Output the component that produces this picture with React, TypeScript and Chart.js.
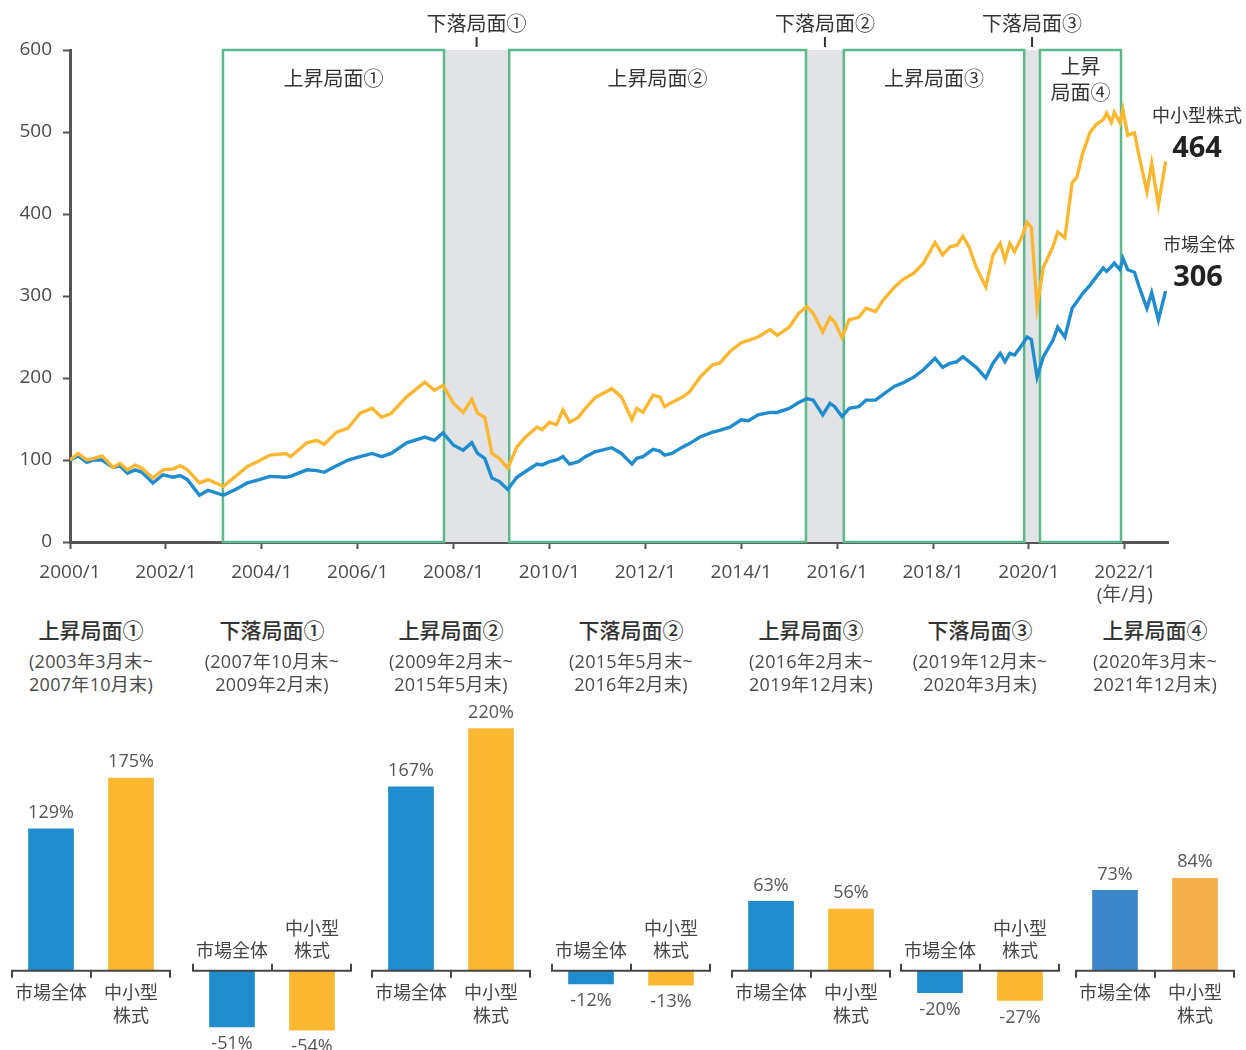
import React, { useEffect, useRef } from "react";
import { Chart, registerables } from "chart.js";

Chart.register(...registerables);

if (typeof document !== "undefined") {
  document.body.style.margin = "0";
}

const FONT = "'Open Sans', 'Noto Sans CJK JP', sans-serif";

// ---- top line chart data (decimal year, index 2000/1 = 100) ----
const dates = [
  2000.0, 2000.17, 2000.35, 2000.5, 2000.67, 2000.9, 2001.04, 2001.2, 2001.36, 2001.5,
  2001.73, 2001.94, 2002.15, 2002.3, 2002.45, 2002.7, 2002.88, 2003.2, 2003.45, 2003.7,
  2003.95, 2004.17, 2004.5, 2004.6, 2004.94, 2005.15, 2005.3, 2005.56, 2005.8, 2006.05,
  2006.3, 2006.5, 2006.7, 2007.02, 2007.4, 2007.6, 2007.78, 2008.0, 2008.2, 2008.38,
  2008.5, 2008.65, 2008.8, 2008.95, 2009.13, 2009.32, 2009.5, 2009.74, 2009.85, 2010.0,
  2010.15, 2010.28, 2010.42, 2010.6, 2010.75, 2010.95, 2011.3, 2011.5, 2011.72, 2011.82,
  2011.95, 2012.16, 2012.3, 2012.4, 2012.55, 2012.78, 2012.92, 2013.14, 2013.4, 2013.55,
  2013.76, 2014.0, 2014.15, 2014.35, 2014.6, 2014.75, 2015.0, 2015.2, 2015.37, 2015.5,
  2015.7, 2015.85, 2015.95, 2016.1, 2016.25, 2016.45, 2016.6, 2016.8, 2016.96, 2017.2,
  2017.37, 2017.6, 2017.8, 2018.04, 2018.2, 2018.35, 2018.5, 2018.62, 2018.75, 2018.9,
  2019.1, 2019.25, 2019.4, 2019.5, 2019.6, 2019.7, 2019.85, 2019.96, 2020.05, 2020.17,
  2020.3, 2020.5, 2020.6, 2020.75, 2020.9, 2021.0, 2021.12, 2021.27, 2021.4, 2021.55,
  2021.62, 2021.72, 2021.78, 2021.9, 2021.96, 2022.06, 2022.2, 2022.3, 2022.46, 2022.56,
  2022.7, 2022.85,
];

const smallMid = [
  100, 108, 100, 102, 105, 91, 96, 88, 94, 90,
  78, 88, 89, 93, 88, 72, 76, 68, 80, 92,
  99, 106, 108, 104, 121, 124, 119, 134, 139, 157,
  163, 152, 157, 177, 195, 185, 191, 169, 158, 174,
  157, 152, 108, 102, 90, 116, 128, 140, 137, 146,
  143, 161, 146, 152, 163, 176, 187, 177, 149, 163,
  158, 179, 177, 165, 170, 177, 183, 201, 216, 218,
  232, 243, 246, 250, 259, 252, 262, 279, 287, 279,
  256, 274, 268, 249, 271, 274, 285, 281, 295, 311,
  320, 328, 340, 365, 350, 360, 362, 373, 360, 335,
  311, 350, 364, 344, 364, 354, 372, 390, 384, 287,
  335, 360, 378, 371, 438, 445, 474, 499, 509, 515,
  523, 512, 524, 511, 527, 496, 499, 470, 427, 462,
  411, 464,
];

const market = [
  100, 105, 97, 100, 100, 91, 93, 84, 88, 85,
  72, 82, 79, 81, 76, 57, 63, 57, 64, 72,
  76, 80, 79, 80, 88, 87, 85, 93, 100, 104,
  108, 104, 108, 121, 128, 124, 133, 118, 112, 121,
  108, 102, 78, 74, 64, 79, 86, 95, 94, 98,
  100, 104, 95, 98, 104, 110, 115, 108, 95, 102,
  104, 113, 111, 106, 108, 116, 120, 128, 134, 136,
  140, 149, 148, 155, 158, 158, 163, 170, 175, 173,
  155, 169, 165, 153, 163, 165, 173, 173, 180, 190,
  194, 201, 210, 224, 213, 218, 220, 226, 220, 213,
  200, 218, 230, 220, 230, 228, 240, 250, 247, 201,
  226, 246, 262, 250, 285, 293, 303, 313, 323, 334,
  330, 336, 340, 332, 346, 332, 329, 311, 285, 304,
  271, 306,
];

const yTicks = [0, 100, 200, 300, 400, 500, 600];
const xTickYears = [2000, 2002, 2004, 2006, 2008, 2010, 2012, 2014, 2016, 2018, 2020, 2022];

const upPhases = [
  [2003.19, 2007.8],
  [2009.16, 2015.35],
  [2016.14, 2019.9],
  [2020.23, 2021.92],
];
const upLabels = [["上昇局面①"], ["上昇局面②"], ["上昇局面③"], ["上昇", "局面④"]];
const downPhases = [
  [2007.8, 2009.16],
  [2015.35, 2016.14],
  [2019.9, 2020.23],
];
const downLabels = ["下落局面①", "下落局面②", "下落局面③"];

// ---- bottom panels ----
const panelTitles = ["上昇局面①", "下落局面①", "上昇局面②", "下落局面②", "上昇局面③", "下落局面③", "上昇局面④"];
const panelPeriods = [
  ["(2003年3月末~", "2007年10月末)"],
  ["(2007年10月末~", "2009年2月末)"],
  ["(2009年2月末~", "2015年5月末)"],
  ["(2015年5月末~", "2016年2月末)"],
  ["(2016年2月末~", "2019年12月末)"],
  ["(2019年12月末~", "2020年3月末)"],
  ["(2020年3月末~", "2021年12月末)"],
];
const marketReturns = [129, -51, 167, -12, 63, -20, 73];
const smallReturns = [175, -54, 220, -13, 56, -27, 84];
const barCategories = [["市場全体"], ["中小型", "株式"]];

const panelCenters = [91, 272, 451, 631, 811, 980, 1155];

const BLUE = "#1F8CCE";
const YELLOW = "#FBB732";
const GREEN = "#5BB98A";
const GRAY = "#E2E3E6";

const topPlugin = {
  id: "phases",
  beforeDatasetsDraw(chart: any) {
    const { ctx, scales } = chart;
    const xs = scales.x;
    const ys = scales.y;
    const top = ys.getPixelForValue(600);
    const bottom = ys.getPixelForValue(0);
    ctx.save();
    ctx.fillStyle = GRAY;
    downPhases.forEach(([a, b]) => {
      const x1 = xs.getPixelForValue(a);
      const x2 = xs.getPixelForValue(b);
      ctx.fillRect(x1, top, x2 - x1, bottom - top);
    });
    ctx.strokeStyle = GREEN;
    ctx.lineWidth = 2.5;
    upPhases.forEach(([a, b]) => {
      const x1 = xs.getPixelForValue(a);
      const x2 = xs.getPixelForValue(b);
      ctx.strokeRect(x1, top, x2 - x1, bottom - top);
    });
    ctx.restore();
  },
  afterDatasetsDraw(chart: any) {
    const { ctx, scales } = chart;
    const xs = scales.x;
    const ys = scales.y;
    const top = ys.getPixelForValue(600);
    ctx.save();
    ctx.fillStyle = "#333";
    ctx.textAlign = "center";
    ctx.textBaseline = "middle";
    ctx.font = `20px ${FONT}`;
    upPhases.forEach(([a, b], i) => {
      const cx = (xs.getPixelForValue(a) + xs.getPixelForValue(b)) / 2;
      const lines = upLabels[i];
      if (lines.length === 1) {
        ctx.fillText(lines[0], cx, top + 30);
      } else {
        lines.forEach((ln, k) => ctx.fillText(ln, cx, top + 18 + k * 26));
      }
    });
    ctx.strokeStyle = "#333";
    ctx.lineWidth = 2;
    downPhases.forEach(([a, b], i) => {
      const cx = (xs.getPixelForValue(a) + xs.getPixelForValue(b)) / 2;
      ctx.fillText(downLabels[i], cx, top - 25);
      ctx.beginPath();
      ctx.moveTo(cx, top - 13);
      ctx.lineTo(cx, top - 3);
      ctx.stroke();
    });
    // end labels
    ctx.fillStyle = "#333";
    ctx.font = `18px ${FONT}`;
    ctx.fillText("中小型株式", 1197, 117);
    ctx.fillText("市場全体", 1199, 246);
    ctx.fillStyle = "#222";
    ctx.font = `bold 29px ${FONT}`;
    ctx.fillText(String(smallMid[smallMid.length - 1]), 1197, 149);
    ctx.fillText(String(market[market.length - 1]), 1198, 278);
    ctx.restore();
  },
};

function TopChart() {
  const ref = useRef<HTMLCanvasElement | null>(null);
  useEffect(() => {
    const chart = new Chart(ref.current as HTMLCanvasElement, {
      type: "line",
      data: {
        datasets: [
          {
            label: "中小型株式",
            data: dates.map((d, i) => ({ x: d, y: smallMid[i] })),
            borderColor: YELLOW,
            borderWidth: 3.4,
            pointRadius: 0,
            tension: 0,
          },
          {
            label: "市場全体",
            data: dates.map((d, i) => ({ x: d, y: market[i] })),
            borderColor: BLUE,
            borderWidth: 3.4,
            pointRadius: 0,
            tension: 0,
          },
        ],
      },
      options: {
        responsive: false,
        animation: false,
        layout: { padding: { left: 0, right: 78, top: 50, bottom: 0 } },
        plugins: { legend: { display: false }, tooltip: { enabled: false } },
        scales: {
          x: {
            type: "linear",
            min: 2000,
            max: 2022.9,
            afterBuildTicks: (s: any) => {
              s.ticks = xTickYears.map((v) => ({ value: v }));
            },
            afterFit: (s: any) => {
              s.height = 68;
            },
            grid: { display: true, drawOnChartArea: false, drawTicks: true, tickLength: 7, tickColor: "#555", tickWidth: 2 },
            border: { display: true, color: "#555", width: 3 },
            ticks: {
              padding: 12,
              color: "#4a4a4a",
              autoSkip: false,
              maxRotation: 0,
              font: { size: 19, family: FONT, lineHeight: 1.2 },
              callback: (v: any) => (v === 2022 ? ["2022/1", "(年/月)"] : `${v}/1`),
            },
          },
          y: {
            min: 0,
            max: 600,
            afterBuildTicks: (s: any) => {
              s.ticks = yTicks.map((v) => ({ value: v }));
            },
            afterFit: (s: any) => {
              s.width = 70;
            },
            grid: { display: true, drawOnChartArea: false, drawTicks: true, tickLength: 7, tickColor: "#555", tickWidth: 2 },
            border: { display: true, color: "#555", width: 3 },
            ticks: { padding: 11, color: "#4a4a4a", font: { size: 19, family: FONT } },
          },
        },
      },
      plugins: [topPlugin],
    } as any);
    return () => chart.destroy();
  }, []);
  return <canvas ref={ref} width={1246} height={610} style={{ position: "absolute", left: 0, top: 0 }} />;
}

const bracketPlugin = {
  id: "bracket",
  afterDatasetsDraw(chart: any) {
    const { ctx, chartArea, scales } = chart;
    const ys = scales.y;
    const y0 = ys.getPixelForValue(0);
    const vals: number[] = chart.data.datasets[0].data;
    const neg = vals.every((v) => v < 0);
    const d = neg ? -1 : 1;
    const L = chartArea.left + 1;
    const R = chartArea.right - 1;
    const M = (L + R) / 2;
    ctx.save();
    ctx.strokeStyle = "#444";
    ctx.lineWidth = 2;
    ctx.beginPath();
    ctx.moveTo(L, y0 + d * 7);
    ctx.lineTo(L, y0);
    ctx.lineTo(R, y0);
    ctx.lineTo(R, y0 + d * 7);
    ctx.moveTo(M, y0);
    ctx.lineTo(M, y0 + d * 7);
    ctx.stroke();
    const meta = chart.getDatasetMeta(0);
    ctx.textAlign = "center";
    ctx.textBaseline = "middle";
    meta.data.forEach((bar: any, i: number) => {
      const lines = barCategories[i];
      ctx.fillStyle = "#444";
      ctx.font = `18px ${FONT}`;
      if (!neg) {
        lines.forEach((ln, k) => ctx.fillText(ln, bar.x, y0 + 23 + k * 23));
      } else {
        lines.forEach((ln, k) => ctx.fillText(ln, bar.x, y0 - 19 - (lines.length - 1 - k) * 22));
      }
      const v = vals[i];
      ctx.fillStyle = "#555";
      ctx.font = `18px ${FONT}`;
      if (v >= 0) ctx.fillText(`${v}%`, bar.x, bar.y - 16);
      else ctx.fillText(`${v}%`, bar.x, bar.y + 17);
    });
    ctx.restore();
  },
};

function Panel({ index }: { index: number }) {
  const ref = useRef<HTMLCanvasElement | null>(null);
  useEffect(() => {
    const last = index === panelTitles.length - 1;
    const chart = new Chart(ref.current as HTMLCanvasElement, {
      type: "bar",
      data: {
        labels: barCategories.map((c) => c.join("")),
        datasets: [
          {
            data: [marketReturns[index], smallReturns[index]],
            backgroundColor: last ? ["#3A87C9", "#F4AE4B"] : [BLUE, YELLOW],
            barThickness: 45,
            borderWidth: 0,
          },
        ],
      },
      options: {
        responsive: false,
        animation: false,
        layout: { padding: { left: 10, right: 10, top: 0, bottom: 0 } },
        plugins: { legend: { display: false }, tooltip: { enabled: false } },
        scales: {
          x: { display: false },
          y: { display: false, min: -72, max: 246 },
        },
      },
      plugins: [bracketPlugin],
    } as any);
    return () => chart.destroy();
  }, [index]);
  const cx = panelCenters[index];
  return (
    <>
      <div
        style={{
          position: "absolute",
          left: cx - 100,
          top: 616,
          width: 200,
          textAlign: "center",
          fontFamily: FONT,
          color: "#333",
          fontSize: 21,
          fontWeight: 500,
          lineHeight: "28px",
        }}
      >
        {panelTitles[index]}
      </div>
      <div
        style={{
          position: "absolute",
          left: cx - 100,
          top: 650,
          width: 200,
          textAlign: "center",
          fontFamily: FONT,
          color: "#4a4a4a",
          fontSize: 18,
          letterSpacing: "0.3px",
          lineHeight: "23px",
        }}
      >
        {panelPeriods[index].map((ln, k) => (
          <div key={k}>{ln}</div>
        ))}
      </div>
      <canvas ref={ref} width={180} height={350} style={{ position: "absolute", left: cx - 90, top: 700 }} />
    </>
  );
}

export default function App() {
  return (
    <div style={{ position: "relative", width: 1246, height: 1050, overflow: "hidden", background: "#fff" }}>
      <TopChart />
      {panelTitles.map((_, i) => (
        <Panel key={i} index={i} />
      ))}
    </div>
  );
}
